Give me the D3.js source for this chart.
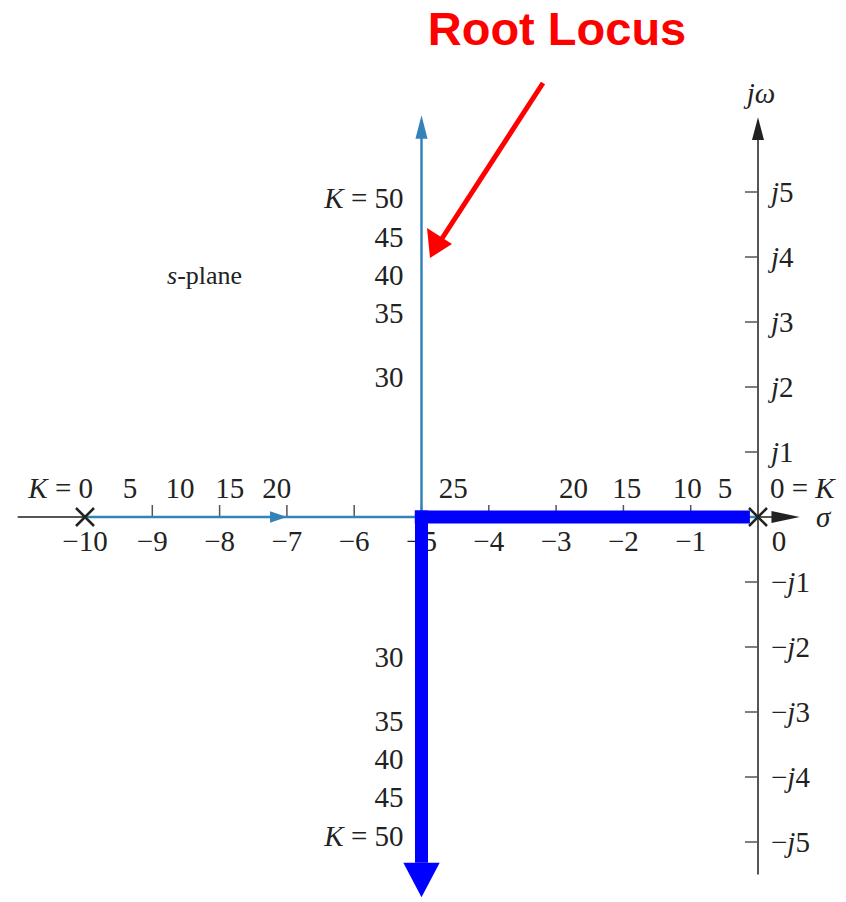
<!DOCTYPE html>
<html lang="en">
  <head>
    <meta charset="utf-8"/>
    <title>Root Locus</title>
    <script src="https://d3js.org/d3.v7.min.js"></script>
  </head>
  <body>
    <div id="root_locus_div"></div>
  </body>
</html>

<style>
  body { margin: 0; background: #fff; }
  svg { display: block; }
  .serif { font-family: "Liberation Serif", "DejaVu Serif", serif; fill: #222; }
</style>

<script>
  const width = 846;
  const height = 902;

  // 軸の目盛り
  const sigmaTicks = [-10, -9, -8, -7, -6, -5, -4, -3, -2, -1, 0];
  const sigmaTickLabels = ["\u221210", "\u22129", "\u22128", "\u22127", "\u22126", "\u22125", "\u22124", "\u22123", "\u22122", "\u22121", "0"];
  const omegaTicks = [5, 4, 3, 2, 1, -1, -2, -3, -4, -5];

  // 極 (K = 0)
  const poles = [-10, 0];

  // 実軸上の K ラベル (sigma 位置)
  const realKLabels = ["5", "10", "15", "20", "25", "20", "15", "10", "5"];
  const realKSigma = [-9.33, -8.59, -7.85, -7.15, -4.53, -2.74, -1.95, -1.05, -0.49];

  // 虚軸方向の K ラベル (omega 位置)
  const imagKLabels = ["30", "35", "40", "45", "50"];
  const imagKOmega = [2.15, 3.14, 3.72, 4.31, 4.91];

  const xScale = d3.scaleLinear().domain([-10, 0]).range([85, 758]);
  const yScale = d3.scaleLinear().domain([-5, 5]).range([842, 192]);

  const svg = d3.select("#root_locus_div")
    .append("svg")
    .attr("width", width)
    .attr("height", height);

  const axisColor = "#555";
  const locusColor = "#3483b8";
  const fs = 29;

  // 実軸 (sigma)
  svg.append("line")
    .attr("x1", xScale(-11)).attr("x2", xScale(0.45))
    .attr("y1", yScale(0)).attr("y2", yScale(0))
    .attr("stroke", axisColor).attr("stroke-width", 2);
  svg.append("path")
    .attr("d", d3.line()([[xScale(0.2), yScale(0) - 6], [xScale(0.62), yScale(0)], [xScale(0.2), yScale(0) + 6]]))
    .attr("fill", "#222");

  // 虚軸 (jw)
  svg.append("line")
    .attr("x1", xScale(0)).attr("x2", xScale(0))
    .attr("y1", yScale(-5.5)).attr("y2", yScale(5.9))
    .attr("stroke", axisColor).attr("stroke-width", 2);
  svg.append("path")
    .attr("d", d3.line()([[xScale(0) - 6, yScale(5.8)], [xScale(0), yScale(6.15)], [xScale(0) + 6, yScale(5.8)]]))
    .attr("fill", "#222");

  // sigma 目盛り (上向き)
  svg.append("g")
    .selectAll("line")
    .data(sigmaTicks.filter((d) => d !== -10 && d !== 0))
    .enter()
    .append("line")
    .attr("x1", (d) => xScale(d)).attr("x2", (d) => xScale(d))
    .attr("y1", yScale(0) - 12).attr("y2", yScale(0))
    .attr("stroke", axisColor).attr("stroke-width", 1.5);

  svg.append("g")
    .selectAll("text")
    .data(sigmaTicks)
    .enter()
    .append("text")
    .attr("class", "serif")
    .attr("x", (d) => xScale(d) + (d === 0 ? 21 : 0))
    .attr("y", yScale(0) + 34)
    .attr("text-anchor", "middle")
    .attr("font-size", fs)
    .text((d, i) => sigmaTickLabels[i]);

  // jw 目盛り (左向き)
  svg.append("g")
    .selectAll("line")
    .data(omegaTicks)
    .enter()
    .append("line")
    .attr("x1", xScale(0) - 13).attr("x2", xScale(0))
    .attr("y1", (d) => yScale(d)).attr("y2", (d) => yScale(d))
    .attr("stroke", axisColor).attr("stroke-width", 1.5);

  const omegaText = svg.append("g")
    .selectAll("text")
    .data(omegaTicks)
    .enter()
    .append("text")
    .attr("class", "serif")
    .attr("x", xScale(0) + 13)
    .attr("y", (d) => yScale(d) + 10)
    .attr("font-size", fs);
  omegaText.filter((d) => d < 0).append("tspan").text("\u2212");
  omegaText.append("tspan").attr("font-style", "italic").text("j");
  omegaText.append("tspan").text((d) => Math.abs(d));

  // 軸ラベル
  svg.append("text")
    .attr("class", "serif")
    .attr("x", xScale(0) + 3).attr("y", 103)
    .attr("text-anchor", "middle")
    .attr("font-size", fs)
    .attr("font-style", "italic")
    .text("j\u03c9");

  svg.append("text")
    .attr("class", "serif")
    .attr("x", xScale(0.97)).attr("y", yScale(0) + 10)
    .attr("text-anchor", "middle")
    .attr("font-size", fs)
    .attr("font-style", "italic")
    .text("\u03c3");

  const splane = svg.append("text")
    .attr("class", "serif")
    .attr("x", 167).attr("y", 284)
    .attr("font-size", 26);
  splane.append("tspan").attr("font-style", "italic").text("s");
  splane.append("tspan").text("-plane");

  // 根軌跡 (水色)
  const locus = [
    [[-10, 0], [-5, 0]],
    [[0, 0], [-5, 0]],
    [[-5, 0], [-5, 5.9]],
    [[-5, 0], [-5, -5.3]]
  ];
  svg.append("g")
    .selectAll("path")
    .data(locus)
    .enter()
    .append("path")
    .attr("d", (d) => d3.line().x((p) => xScale(p[0])).y((p) => yScale(p[1]))(d))
    .attr("fill", "none")
    .attr("stroke", locusColor)
    .attr("stroke-width", 2.5);

  // 矢印 (水色)
  const arrowUp = [[-5, 6.18], [-5.09, 5.82], [-4.91, 5.82]];
  const arrowRight = [[-7.0, 0], [-7.25, 0.09], [-7.25, -0.09]];
  const arrowLeft = [[-3.0, 0], [-2.75, 0.09], [-2.75, -0.09]];
  svg.append("g")
    .selectAll("path")
    .data([arrowUp, arrowRight, arrowLeft])
    .enter()
    .append("path")
    .attr("d", (d) => d3.line().x((p) => xScale(p[0])).y((p) => yScale(p[1]))(d) + "Z")
    .attr("fill", locusColor);

  // K ラベル (実軸上)
  svg.append("g")
    .selectAll("text")
    .data(realKLabels)
    .enter()
    .append("text")
    .attr("class", "serif")
    .attr("x", (d, i) => xScale(realKSigma[i]))
    .attr("y", yScale(0) - 19)
    .attr("text-anchor", "middle")
    .attr("font-size", fs)
    .text((d) => d);

  const k0Left = svg.append("text")
    .attr("class", "serif")
    .attr("x", xScale(-10) + 8).attr("y", yScale(0) - 19)
    .attr("text-anchor", "end")
    .attr("font-size", fs);
  k0Left.append("tspan").attr("font-style", "italic").text("K");
  k0Left.append("tspan").text(" = 0");

  const k0Right = svg.append("text")
    .attr("class", "serif")
    .attr("x", xScale(0) + 12).attr("y", yScale(0) - 19)
    .attr("font-size", fs);
  k0Right.append("tspan").text("0 = ");
  k0Right.append("tspan").attr("font-style", "italic").text("K");

  // K ラベル (虚軸方向, 上下)
  [1, -1].forEach((sign) => {
    const t = svg.append("g")
      .selectAll("text")
      .data(imagKLabels)
      .enter()
      .append("text")
      .attr("class", "serif")
      .attr("x", xScale(-5) - 18)
      .attr("y", (d, i) => yScale(sign * imagKOmega[i]) + 10)
      .attr("text-anchor", "end")
      .attr("font-size", fs);
    t.filter((d) => d === "50").append("tspan").attr("font-style", "italic").text("K");
    t.filter((d) => d === "50").append("tspan").text(" = ");
    t.append("tspan").text((d) => d);
  });

  // 極の × 印
  svg.append("g")
    .selectAll("path")
    .data(poles)
    .enter()
    .append("path")
    .attr("d", (d) => {
      const x = xScale(d), y = yScale(0), r = 9;
      return `M${x - r},${y - r}L${x + r},${y + r}M${x - r},${y + r}L${x + r},${y - r}`;
    })
    .attr("stroke", "#222")
    .attr("stroke-width", 2.5);

  // 強調 (青い太線)
  const highlight = [[-0.12, 0], [-5.1, 0]];
  const highlightDown = [[-5, 0.1], [-5, -5.32]];
  const hl = d3.line().x((p) => xScale(p[0])).y((p) => yScale(p[1]));
  svg.append("path").attr("d", hl(highlight))
    .attr("stroke", "#0000ff").attr("stroke-width", 13).attr("fill", "none");
  svg.append("path").attr("d", hl(highlightDown))
    .attr("stroke", "#0000ff").attr("stroke-width", 13).attr("fill", "none");
  svg.append("path")
    .attr("d", hl([[-5.27, -5.32], [-4.73, -5.32], [-5, -5.85]]) + "Z")
    .attr("fill", "#0000ff");

  // タイトルと赤い矢印
  svg.append("text")
    .attr("x", 557).attr("y", 45)
    .attr("text-anchor", "middle")
    .attr("font-family", "Liberation Sans, Arial, sans-serif")
    .attr("font-weight", "bold")
    .attr("font-size", 47)
    .attr("fill", "#ff0000")
    .text("Root Locus");

  svg.append("line")
    .attr("x1", 543).attr("y1", 83)
    .attr("x2", 441).attr("y2", 240)
    .attr("stroke", "#ff0000").attr("stroke-width", 5);
  svg.append("path")
    .attr("d", "M430,258L427,228L452,244Z")
    .attr("fill", "#ff0000");
</script>
